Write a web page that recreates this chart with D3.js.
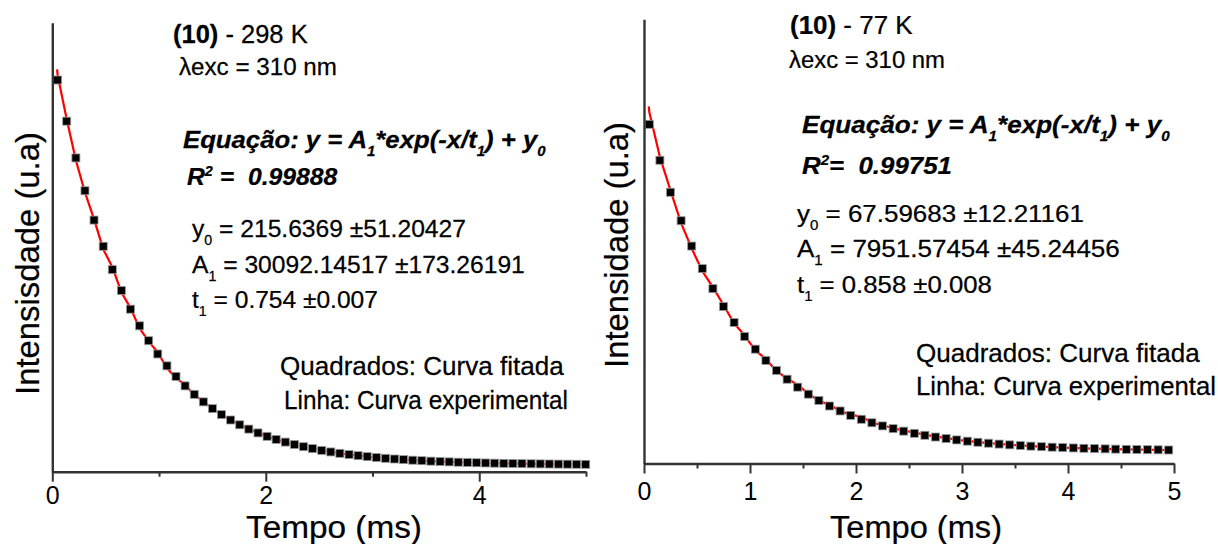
<!DOCTYPE html>
<html><head><meta charset="utf-8">
<script src="https://cdn.jsdelivr.net/npm/d3@7"></script>
<style>
body{margin:0;background:#fff}
svg{display:block}
text{font-family:"Liberation Sans",Arial,sans-serif;fill:#000}
</style>
</head><body>
<svg id="c" width="1218" height="544"></svg>
<script>
// ---------- data ----------
const xMajorL = [0, 2, 4];
const xMinorL = [1, 3, 5];
const xMajorR = [0, 1, 2, 3, 4, 5];
const xMinorR = [0.5, 1.5, 2.5, 3.5, 4.5];

// Left panel (298 K): squares = fitted curve, line = experimental
const fitX298 = [0.050,0.135,0.221,0.306,0.391,0.477,0.562,0.647,0.732,0.818,
  0.903,0.988,1.074,1.159,1.244,1.330,1.415,1.500,1.585,1.671,
  1.756,1.841,1.927,2.012,2.097,2.183,2.268,2.353,2.438,2.524,
  2.609,2.694,2.780,2.865,2.950,3.036,3.121,3.206,3.291,3.377,
  3.462,3.547,3.633,3.718,3.803,3.889,3.974,4.059,4.144,4.230,
  4.315,4.400,4.486,4.571,4.656,4.742,4.827,4.912,4.997];
const fitY298 = [28377,25365,22675,20273,18127,16211,14500,12972,11608,10389,
  9301,8329,7461,6686,5994,5376,4824,4331,3891,3498,
  3147,2833,2553,2303,2080,1881,1703,1544,1402,1275,
  1161,1060,970,889,817,753,695,644,598,557,
  521,488,459,433,410,389,370,354,339,326,
  314,304,294,286,278,272,266,260,255];
const expX298 = [0.045].concat(fitX298);
const expY298 = [29160,
  28750,25500,22500,20150,18200,16000,14700,12850,11700,10200,
  9250,8450,7300,6550,6100,5300,4900,4280,3950,3460,
  3200,2800,2600,2280,2110,1860,1720,1530,1420,1260,
  1175,1065,960,895,812,760,690,648,595,560,
  518,490,457,436,408,391,368,356,338,327,
  312,305,293,287,277,272,265,261,253];

// Right panel (77 K)
const fitX77 = [0.05,0.15,0.25,0.35,0.45,0.55,0.65,0.75,0.85,0.95,
  1.05,1.15,1.25,1.35,1.45,1.55,1.65,1.75,1.85,1.95,
  2.05,2.15,2.25,2.35,2.45,2.55,2.65,2.75,2.85,2.95,
  3.05,3.15,3.25,3.35,3.45,3.55,3.65,3.75,3.85,3.95,
  4.05,4.15,4.25,4.35,4.45,4.55,4.65,4.75,4.85,4.95];
const fitY77 = [7569,6744,6009,5356,4774,4256,3796,3386,3020,2696,
  2407,2149,1920,1717,1535,1374,1230,1102,988,887,
  797,717,645,582,525,475,430,390,355,323,
  295,270,248,228,210,195,181,168,157,147,
  139,131,124,118,112,107,103,99,96,92];
const expX77 = [0.045].concat(fitX77);
const expY77 = [7980,
  7850,6820,6050,5300,4720,4200,3830,3420,3000,2720,
  2380,2180,1900,1740,1580,1390,1220,1130,990,900,
  860,720,660,590,540,490,445,400,372,325,
  300,272,250,232,212,196,182,170,158,146,
  140,130,125,117,112,106,103,98,95,90];

// ---------- drawing ----------
const svg = d3.select("#c");

function richText(segs, o) {
  const g = svg.append("g")
    .attr("transform", `translate(${o.x},${o.y})` + (o.rotate ? ` rotate(${o.rotate})` : ""));
  const t = g.append("text")
    .attr("xml:space", "preserve")
    .attr("font-size", o.fs)
    .attr("text-anchor", o.anchor || "start")
    .attr("stroke", "#000").attr("stroke-width", 0.25);
  if (o.bold) t.attr("font-weight", "bold");
  if (o.italic) t.attr("font-style", "italic");
  let shift = 0;
  segs.forEach(s => {
    const sp = t.append("tspan").text(s.t);
    if (s.b) sp.attr("font-weight", "bold");
    const target = s.sub ? o.fs * 0.32 : (s.sup ? -o.fs * 0.38 : 0);
    if (target !== shift) { sp.attr("dy", target - shift); shift = target; }
    if (s.sub || s.sup) sp.attr("font-size", o.fs * 0.58);
  });
  if (o.w) {
    const w = t.node().getBBox().width;
    t.attr("transform", `scale(${o.w / w},1)`);
  }
}

function panel(p) {
  const x = d3.scaleLinear().domain([0, 5]).range([p.x0, p.x1]);
  const y = d3.scaleLinear().domain(p.yDom).range([p.yBot, p.yTop]);

  svg.append("path")
    .datum(d3.zip(p.expX, p.expY))
    .attr("d", d3.line().x(d => x(d[0])).y(d => y(d[1])))
    .attr("fill", "none").attr("stroke", "#ff0000")
    .attr("stroke-width", 2.2).attr("stroke-linejoin", "round");

  svg.append("g").selectAll("rect")
    .data(d3.zip(p.fitX, p.fitY)).join("rect")
    .attr("x", d => x(d[0]) - 4).attr("y", d => y(d[1]) - 4)
    .attr("width", 8).attr("height", 8)
    .attr("fill", "#000").attr("stroke", "#9a9a9a").attr("stroke-width", 0.8);

  const gx = svg.append("g").attr("transform", `translate(0,${p.yBot})`)
    .call(d3.axisBottom(x).tickValues(p.major).tickFormat(d3.format("d")).tickSize(10).tickSizeOuter(0));
  gx.selectAll("text").attr("y", p.labY).attr("dy", 0)
    .attr("font-size", 25).attr("font-family", '"Liberation Sans",Arial,sans-serif').attr("fill", "#000");
  const gm = svg.append("g").attr("transform", `translate(0,${p.yBot})`)
    .call(d3.axisBottom(x).tickValues(p.minor).tickSize(5).tickFormat("").tickSizeOuter(0));
  gm.select(".domain").remove();
  const gy = svg.append("g").attr("transform", `translate(${p.x0},0)`)
    .call(d3.axisLeft(y).tickValues([]).tickSizeOuter(0));
  [gx, gm, gy].forEach(g => {
    g.selectAll(".domain").attr("stroke", "#333").attr("stroke-width", 2.4);
    g.selectAll(".tick line").attr("stroke", "#333").attr("stroke-width", 2);
  });
}

panel({x0: 52.3, x1: 586, yBot: 471.7, yTop: 22.7, yDom: [-285, 32570],
  fitX: fitX298, fitY: fitY298, expX: expX298, expY: expY298,
  major: xMajorL, minor: xMinorL, labY: 32.5});
panel({x0: 644, x1: 1174, yBot: 463.5, yTop: 19.3, yDom: [-218, 9980],
  fitX: fitX77, fitY: fitY77, expX: expX77, expY: expY77,
  major: xMajorR, minor: xMinorR, labY: 36});

// ----- texts: left -----
richText([{t: "(10)", b: true}, {t: " - 298 K"}], {x: 173, y: 43, fs: 25, w: 135});
richText([{t: "λexc = 310 nm"}], {x: 179, y: 75, fs: 24, w: 158});
richText([{t: "Equação: y = A"}, {t: "1", sub: true}, {t: "*exp(-x/t"}, {t: "1", sub: true}, {t: ") + y"}, {t: "0", sub: true}],
  {x: 183, y: 148, fs: 24, bold: true, italic: true, w: 363});
richText([{t: "R"}, {t: "2", sup: true}, {t: " =  0.99888"}], {x: 187, y: 185, fs: 24, bold: true, italic: true, w: 151});
richText([{t: "y"}, {t: "0", sub: true}, {t: " = 215.6369 ±51.20427"}], {x: 192, y: 237, fs: 24, w: 274});
richText([{t: "A"}, {t: "1", sub: true}, {t: " = 30092.14517 ±173.26191"}], {x: 192, y: 273, fs: 24, w: 333});
richText([{t: "t"}, {t: "1", sub: true}, {t: " = 0.754 ±0.007"}], {x: 192, y: 308, fs: 24, w: 186});
richText([{t: "Quadrados: Curva fitada"}], {x: 280, y: 375, fs: 25, w: 284});
richText([{t: "Linha: Curva experimental"}], {x: 284, y: 409, fs: 25, w: 284});
richText([{t: "Intensisdade (u.a)"}], {x: 39, y: 263.5, fs: 33, anchor: "middle", rotate: -90, w: 263});
richText([{t: "Tempo (ms)"}], {x: 334, y: 537.5, fs: 31, anchor: "middle", w: 176});

// ----- texts: right -----
richText([{t: "(10)", b: true}, {t: " - 77 K"}], {x: 790, y: 34, fs: 25, w: 123});
richText([{t: "λexc = 310 nm"}], {x: 789, y: 68, fs: 24, w: 156});
richText([{t: "Equação: y = A"}, {t: "1", sub: true}, {t: "*exp(-x/t"}, {t: "1", sub: true}, {t: ") + y"}, {t: "0", sub: true}],
  {x: 802, y: 133, fs: 24, bold: true, italic: true, w: 368});
richText([{t: "R"}, {t: "2", sup: true}, {t: "=  0.99751"}], {x: 802, y: 174, fs: 24, bold: true, italic: true, w: 150});
richText([{t: "y"}, {t: "0", sub: true}, {t: " = 67.59683 ±12.21161"}], {x: 797, y: 222, fs: 24, w: 287});
richText([{t: "A"}, {t: "1", sub: true}, {t: " = 7951.57454 ±45.24456"}], {x: 797, y: 257, fs: 24, w: 323});
richText([{t: "t"}, {t: "1", sub: true}, {t: " = 0.858 ±0.008"}], {x: 797, y: 293, fs: 24, w: 195});
richText([{t: "Quadrados: Curva fitada"}], {x: 916, y: 362, fs: 25, w: 284});
richText([{t: "Linha: Curva experimental"}], {x: 916, y: 395, fs: 25, w: 300});
richText([{t: "Intensidade (u.a)"}], {x: 628, y: 245, fs: 33, anchor: "middle", rotate: -90, w: 246});
richText([{t: "Tempo (ms)"}], {x: 916, y: 537.5, fs: 31, anchor: "middle", w: 172});
</script>
</body></html>
